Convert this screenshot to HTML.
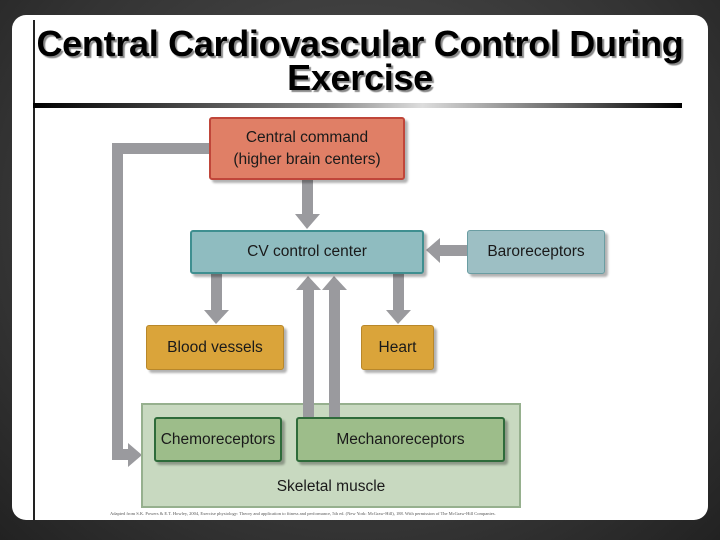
<!DOCTYPE html>
<html><head><meta charset="utf-8"><style>
html,body{margin:0;padding:0}
body{width:720px;height:540px;overflow:hidden;position:relative;font-family:"Liberation Sans",Arial,sans-serif}
.frame{position:absolute;left:0;top:0;width:720px;height:540px;background:radial-gradient(ellipse at 50% 40%,#555 0%,#333 70%,#222 100%)}
.panel{position:absolute;left:12px;top:15px;width:696px;height:505px;background:#fff;border-radius:14px}
.vline{position:absolute;left:33px;top:20px;width:2px;height:500px;background:#222}
.title{position:absolute;left:0;width:720px;top:27px;text-align:center;font-size:36px;font-weight:bold;line-height:34px;color:#000;text-shadow:2px 2px 1px #888;letter-spacing:-0.3px}
.bar{position:absolute;left:33px;top:103px;width:649px;height:5px;background:linear-gradient(90deg,#000,#888 45%,#ddd 60%,#555 85%,#000)}
.b{position:absolute;box-sizing:border-box;display:flex;align-items:center;justify-content:center;text-align:center;font-size:15.5px;color:#1a1a1a;border-radius:3px;box-shadow:3px 3px 2px rgba(0,0,0,.3)}
.g{position:absolute;background:#9a9a9e}
.caption{position:absolute;left:110px;top:511px;font-size:4.5px;color:#555;white-space:nowrap;font-family:"Liberation Serif",serif}
</style></head><body>
<div class="frame"></div>
<div class="panel"></div>
<div class="vline"></div>
<div class="title">Central Cardiovascular Control During<br>Exercise</div>
<div class="bar"></div>
<svg style="position:absolute;left:0;top:0" width="720" height="540">
<g fill="#9a9a9e">
<rect x="112" y="143" width="100" height="11"/>
<rect x="112" y="143" width="11" height="314"/>
<rect x="112" y="449" width="18" height="11"/>
<polygon points="128,443 142,455 128,467"/>
<rect x="302" y="178" width="11" height="38"/>
<polygon points="295,214 320,214 307,229"/>
<rect x="438" y="245" width="32" height="11"/>
<polygon points="440,238 440,263 426,250"/>
<rect x="211" y="272" width="11" height="40"/>
<polygon points="204,310 229,310 216,324"/>
<rect x="393" y="272" width="11" height="40"/>
<polygon points="386,310 411,310 398,324"/>
<rect x="303" y="288" width="11" height="132"/>
<polygon points="296,290 321,290 308,276"/>
<rect x="329" y="288" width="11" height="132"/>
<polygon points="322,290 347,290 334,276"/>
</g>
</svg>
<div class="b" style="left:209px;top:117px;width:196px;height:63px;background:#e07f66;border:2px solid #c0463a;line-height:22px">Central command<br>(higher brain centers)</div>
<div class="b" style="left:190px;top:230px;width:234px;height:44px;background:#8fbcc0;border:2px solid #3f8f90">CV control center</div>
<div class="b" style="left:467px;top:230px;width:138px;height:44px;background:#9dbfc4;border:1px solid #6a9da2">Baroreceptors</div>
<div class="b" style="left:146px;top:325px;width:138px;height:45px;background:#daa43a;border:1px solid #b8872a">Blood vessels</div>
<div class="b" style="left:361px;top:325px;width:73px;height:45px;background:#daa43a;border:1px solid #b8872a">Heart</div>
<div class="b" style="left:141px;top:403px;width:380px;height:105px;background:#c8d9c0;border:2px solid #96b08e;border-radius:0;box-shadow:none;align-items:flex-end;padding-bottom:10px">Skeletal muscle</div>
<div class="g" style="left:303px;top:403px;width:11px;height:16px"></div>
<div class="g" style="left:329px;top:403px;width:11px;height:16px"></div>
<div class="b" style="left:154px;top:417px;width:128px;height:45px;background:#9dbd8a;border:2px solid #2e6b3a">Chemoreceptors</div>
<div class="b" style="left:296px;top:417px;width:209px;height:45px;background:#9dbd8a;border:2px solid #2e6b3a">Mechanoreceptors</div>
<div class="caption">Adapted from S.K. Powers &amp; E.T. Howley, 2004, Exercise physiology: Theory and application to fitness and performance, 5th ed. (New York: McGraw-Hill), 188. With permission of The McGraw-Hill Companies.</div>
</body></html>
